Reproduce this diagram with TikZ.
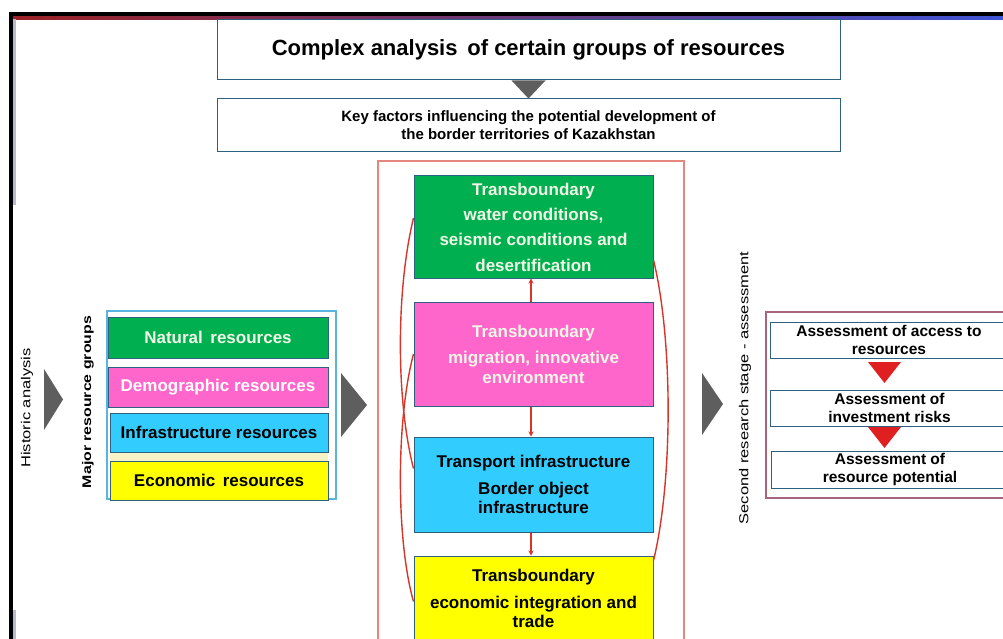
\documentclass[tikz,border=0pt]{standalone}
\usepackage{fontspec}
\setmainfont{Liberation Sans}
\newfontfamily\widefont{Liberation Sans}[FakeStretch=1.27]
\usetikzlibrary{arrows.meta,calc}
\definecolor{bord}{HTML}{2E6080}
\definecolor{cgreen}{HTML}{00B050}
\definecolor{cpink}{HTML}{FF66CC}
\definecolor{ccyan}{HTML}{33CCFF}
\definecolor{cyellow}{HTML}{FFFF00}
\definecolor{lighttxt}{HTML}{F2F6E6}
\definecolor{redline}{HTML}{D8352A}
\definecolor{outerred}{HTML}{E5877C}
\definecolor{mauve}{HTML}{A8647F}
\definecolor{lblue}{HTML}{5BB4E0}
\definecolor{tgray}{HTML}{5E5E5E}
\definecolor{tred}{HTML}{E02020}
\definecolor{stripgray}{HTML}{B8BCC8}
\definecolor{paley}{HTML}{F8F3C6}
\begin{document}
\begin{tikzpicture}[x=1pt,y=-1pt,
  box/.style={draw=bord, line width=1pt, inner sep=0pt, align=center, font=\bfseries},
  headbox/.style={box, fill=white},
  resbox/.style={box, minimum width=220pt, font=\bfseries\fontsize{17}{19}\selectfont},
  midbox/.style={box, minimum width=239pt},
  assbox/.style={box, fill=white, minimum width=238pt, minimum height=36pt, font=\bfseries\fontsize{15.5}{18}\selectfont},
  vlabel/.style={rotate=90, inner sep=0pt, font=\widefont\fontsize{13}{15}\selectfont},
  flowarrow/.style={draw=redline, line width=1.1pt, -{Stealth[length=5pt,width=5pt]}},
  relcurve/.style={draw=redline, line width=1.4pt}
]
\useasboundingbox (0,0) rectangle (1003,639);
\clip (0,0) rectangle (1003,639);
\fill[white] (0,0) rectangle (1003,639);
% frame
\fill[black] (9,12) rectangle (1003,16.5);
\fill[black] (9,12) rectangle (13,639);
\shade[left color={rgb,255:red,155;green,34;blue,38}, middle color={rgb,255:red,110;green,60;blue,150}, right color={rgb,255:red,64;green,84;blue,214}] (13,16.5) rectangle (1003,19.5);
\fill[stripgray] (13,19.5) rectangle (16,205);
\fill[stripgray] (13,610) rectangle (16,639);

% top boxes
\node[headbox, minimum width=623pt, minimum height=60pt, font=\bfseries\fontsize{22}{24}\selectfont] (b1) at (528.5,50) {Complex analysis\, of certain groups of resources};
\node[headbox, minimum width=623pt, minimum height=53pt, font=\bfseries\fontsize{15}{18}\selectfont] (b2) at (528.5,125.5) {Key factors influencing the potential development of\\the border territories of Kazakhstan};
\fill[tgray] ($(b1.south)+(-17,0)$) -- ($(b1.south)+(17,0)$) -- (b2.north) -- cycle;

% left section
\node[vlabel] (hist) at (27,408) {Historic analysis};
\fill[tgray] (44,369) -- (63,399.5) -- (44,430) -- cycle;
\node[vlabel, font=\widefont\bfseries\fontsize{12.5}{15}\selectfont] (major) at (88,402) {Major resource groups};
\draw[lblue, line width=1.5pt] (107,311) rectangle (336,499);
\fill[paley] (110,452) rectangle (328,461);
\node[resbox, fill=cgreen, text=lighttxt, minimum height=41pt] (nat) at (218,337.5) {Natural\, resources};
\node[resbox, fill=cpink, text=white, minimum height=40pt] (dem) at (218,387) {Demographic resources};
\node[resbox, fill=ccyan, minimum width=218pt, minimum height=39pt] (inf) at (219,432.5) {Infrastructure resources};
\node[resbox, fill=cyellow, minimum width=218pt, minimum height=39pt] (eco) at (219,480.5) {Economic\, resources};
\fill[tgray] (341,373) -- (367,405) -- (341,437) -- cycle;

% middle section
\draw[outerred, line width=2pt] (378,161) rectangle (684,660);
\node[midbox, fill=cgreen, text=lighttxt, minimum height=102pt, font=\bfseries\fontsize{17}{25.3}\selectfont] (wat) at (533.5,227) {Transboundary\\water conditions,\\seismic conditions and\\desertification};
\node[midbox, fill=cpink, text=lighttxt, minimum height=104pt, font=\bfseries\fontsize{17}{20}\selectfont] (mig) at (533.5,354) {Transboundary\\[6pt]migration, innovative\\environment};
\node[midbox, fill=ccyan, minimum height=95pt, font=\bfseries\fontsize{17}{19.5}\selectfont] (tra) at (533.5,484.5) {Transport infrastructure\\[7pt]Border object\\infrastructure};
\node[midbox, fill=cyellow, minimum height=85pt, font=\bfseries\fontsize{17}{19.5}\selectfont] (ecint) at (533.5,598.5) {Transboundary\\[7pt]economic integration and\\trade};
\draw[flowarrow] ([xshift=-2.5pt]mig.north) -- ([xshift=-2.5pt]wat.south);
\draw[flowarrow] ([xshift=-2.5pt]mig.south) -- ([xshift=-2.5pt]tra.north);
\draw[flowarrow] ([xshift=-2.5pt]tra.south) -- ([xshift=-2.5pt]ecint.north);
\draw[relcurve] ([yshift=9pt]wat.west) .. controls (396,290) and (396,400) .. ([yshift=16pt]tra.west);
\draw[relcurve] (mig.west) .. controls (396,420) and (396,540) .. ([yshift=-3pt]ecint.west);
\draw[relcurve] ([yshift=-33pt]wat.east) .. controls (673,340) and (673,480) .. ([yshift=38pt]ecint.east);
\fill[tgray] (702,373) -- (723,404) -- (702,435) -- cycle;

% right section
\node[vlabel] (second) at (745,388) {Second research stage - assessment};
\draw[mauve, line width=1.6pt] (766,312) rectangle (1012,498);
\node[assbox] (acc) at (889,340) {Assessment of access to\\resources};
\node[assbox] (risk) at (889.5,408) {Assessment of\\investment risks};
\node[assbox, minimum height=37pt] (pot) at (890,469.5) {Assessment of\\resource potential};
\fill[tred] (868,362) -- (901,362) -- (884.5,383) -- cycle;
\fill[tred] (868,427) -- (901,427) -- (884.5,448) -- cycle;
\end{tikzpicture}
\end{document}
